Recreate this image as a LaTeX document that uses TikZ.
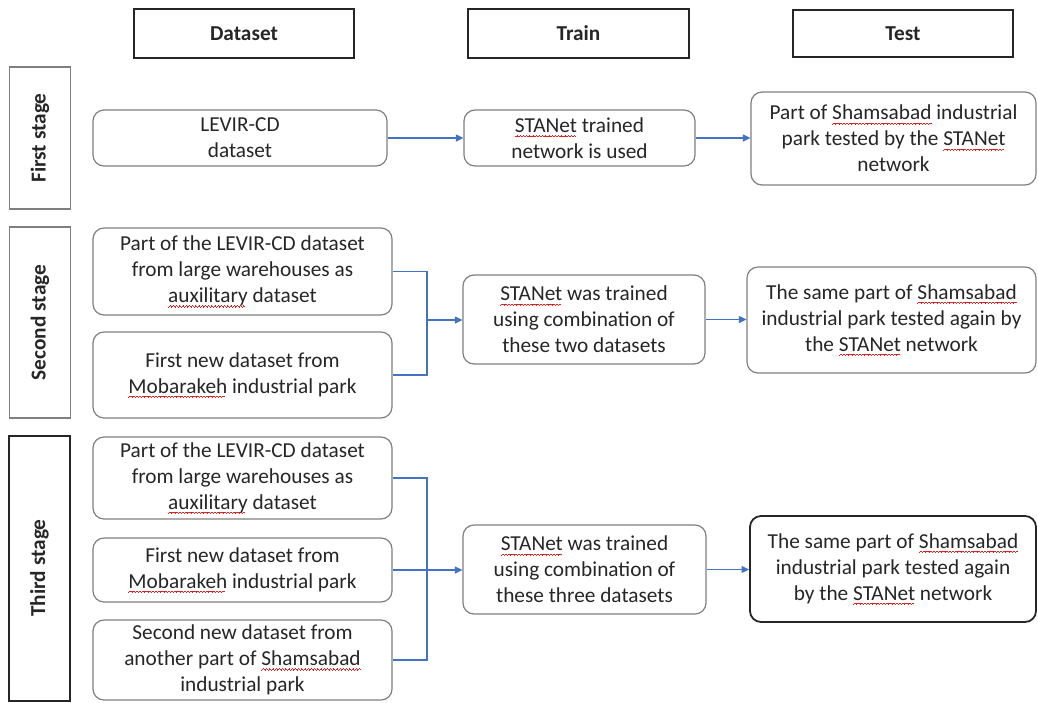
\documentclass[tikz,border=0pt]{standalone}
\usepackage{fontspec}
\setmainfont{Carlito}
\usetikzlibrary{arrows.meta}
\definecolor{conn}{HTML}{4472C4}
\definecolor{txt}{HTML}{262626}
\definecolor{bgray}{HTML}{7F7F7F}
\definecolor{sperrred}{HTML}{E02020}
\newsavebox\sperrbox
\newsavebox\wavebox
\sbox\wavebox{\color{sperrred}\rule[-4.6pt]{0.8pt}{0.7pt}\rule[-4.0pt]{0.8pt}{0.7pt}\rule[-3.4pt]{0.8pt}{0.7pt}\rule[-4.0pt]{0.8pt}{0.7pt}}
\newcommand\sperr[1]{\leavevmode\sbox\sperrbox{#1}\rlap{\leaders\copy\wavebox\hskip\wd\sperrbox}\usebox\sperrbox}
\tikzset{
  every node/.style={font=\fontsize{21.3}{26}\selectfont, text=txt, align=center, inner sep=0pt},
  hdbox/.style={draw=black!85, line width=1.6pt, font=\fontsize{21.3}{26}\selectfont\bfseries},
  stagebox/.style={draw=bgray, line width=1.3pt, rotate=90, font=\fontsize{21.3}{26}\selectfont\bfseries, minimum height=61pt},
  rbox/.style={draw=bgray, line width=1.2pt, rounded corners=11pt},
  darkbox/.style={draw=black!85, line width=1.8pt, rounded corners=11pt},
  link/.style={draw=conn, line width=1.2pt},
  arr/.style={link, -{Triangle[length=7.5pt,width=7pt]}},
}
\begin{document}
\begin{tikzpicture}[x=1pt,y=-1pt]
\useasboundingbox (0,0) rectangle (1038,702);
% headers
\node[hdbox, minimum width=220pt, minimum height=49pt] (hd) at (244,33.5) {Dataset};
\node[hdbox, minimum width=221pt, minimum height=49pt] (ht) at (578.5,33.5) {Train};
\node[hdbox, minimum width=220pt, minimum height=47pt] (hs) at (903,33.5) {Test};
% stage labels
\node[stagebox, minimum width=142pt] (s1) at (40,138) {First stage};
\node[stagebox, minimum width=191pt] (s2) at (40,322.5) {Second stage};
\node[stagebox, minimum width=265pt, draw=black!85, line width=2pt] (s3) at (39.5,568) {Third stage};
% first stage
\node[rbox, minimum width=294pt, minimum height=56pt] (d1) at (240,138) {LEVIR-CD\\dataset};
\node[rbox, minimum width=231pt, minimum height=56pt] (t1) at (579.5,138) {\sperr{STANet} trained\\network is used};
\node[rbox, minimum width=285pt, minimum height=93pt] (e1) at (893.5,138.5) {Part of \sperr{Shamsabad} industrial\\park tested by the \sperr{STANet}\\network};
% second stage
\node[rbox, minimum width=299pt, minimum height=87pt] (d2a) at (242.5,271.5) {Part of the LEVIR-CD dataset\\from large warehouses as\\\sperr{auxilitary} dataset};
\node[rbox, minimum width=299pt, minimum height=86pt] (d2b) at (242.5,375) {First new dataset from\\\sperr{Mobarakeh} industrial park};
\node[rbox, minimum width=242pt, minimum height=89pt] (t2) at (584,319.5) {\sperr{STANet} was trained\\using combination of\\these two datasets};
\node[rbox, minimum width=289pt, minimum height=106pt] (e2) at (891.5,320) {The same part of \sperr{Shamsabad}\\industrial park tested again by\\the \sperr{STANet} network};
% third stage
\node[rbox, minimum width=299pt, minimum height=82pt] (d3a) at (242.5,478) {Part of the LEVIR-CD dataset\\from large warehouses as\\\sperr{auxilitary} dataset};
\node[rbox, minimum width=299pt, minimum height=64pt] (d3b) at (242.5,570) {First new dataset from\\\sperr{Mobarakeh} industrial park};
\node[rbox, minimum width=299pt, minimum height=80pt] (d3c) at (242.5,660) {Second new dataset from\\another part of \sperr{Shamsabad}\\industrial park};
\node[rbox, minimum width=243pt, minimum height=89pt] (t3) at (584.5,569.5) {\sperr{STANet} was trained\\using combination of\\these three datasets};
\node[darkbox, minimum width=286pt, minimum height=106pt] (e3) at (893,569) {The same part of \sperr{Shamsabad}\\industrial park tested again\\by the \sperr{STANet} network};
% connectors
\coordinate (j2) at (427,320);
\coordinate (j3) at (427,570);
\draw[arr] (d1.east) -- (t1.west);
\draw[arr] (t1.east) -- (t1.east -| e1.west);
\draw[link] (d2a.east) -- (d2a.east -| j2) -- (d2b.east -| j2) -- (d2b.east);
\draw[arr] (j2) -- (j2 -| t2.west);
\draw[arr] (t2.east) -- (t2.east -| e2.west);
\draw[link] (d3a.east) -- (d3a.east -| j3) -- (d3c.east -| j3) -- (d3c.east);
\draw[arr] (d3b.east) -- (d3b.east -| t3.west);
\draw[arr] (t3.east) -- (t3.east -| e3.west);
\end{tikzpicture}
\end{document}
